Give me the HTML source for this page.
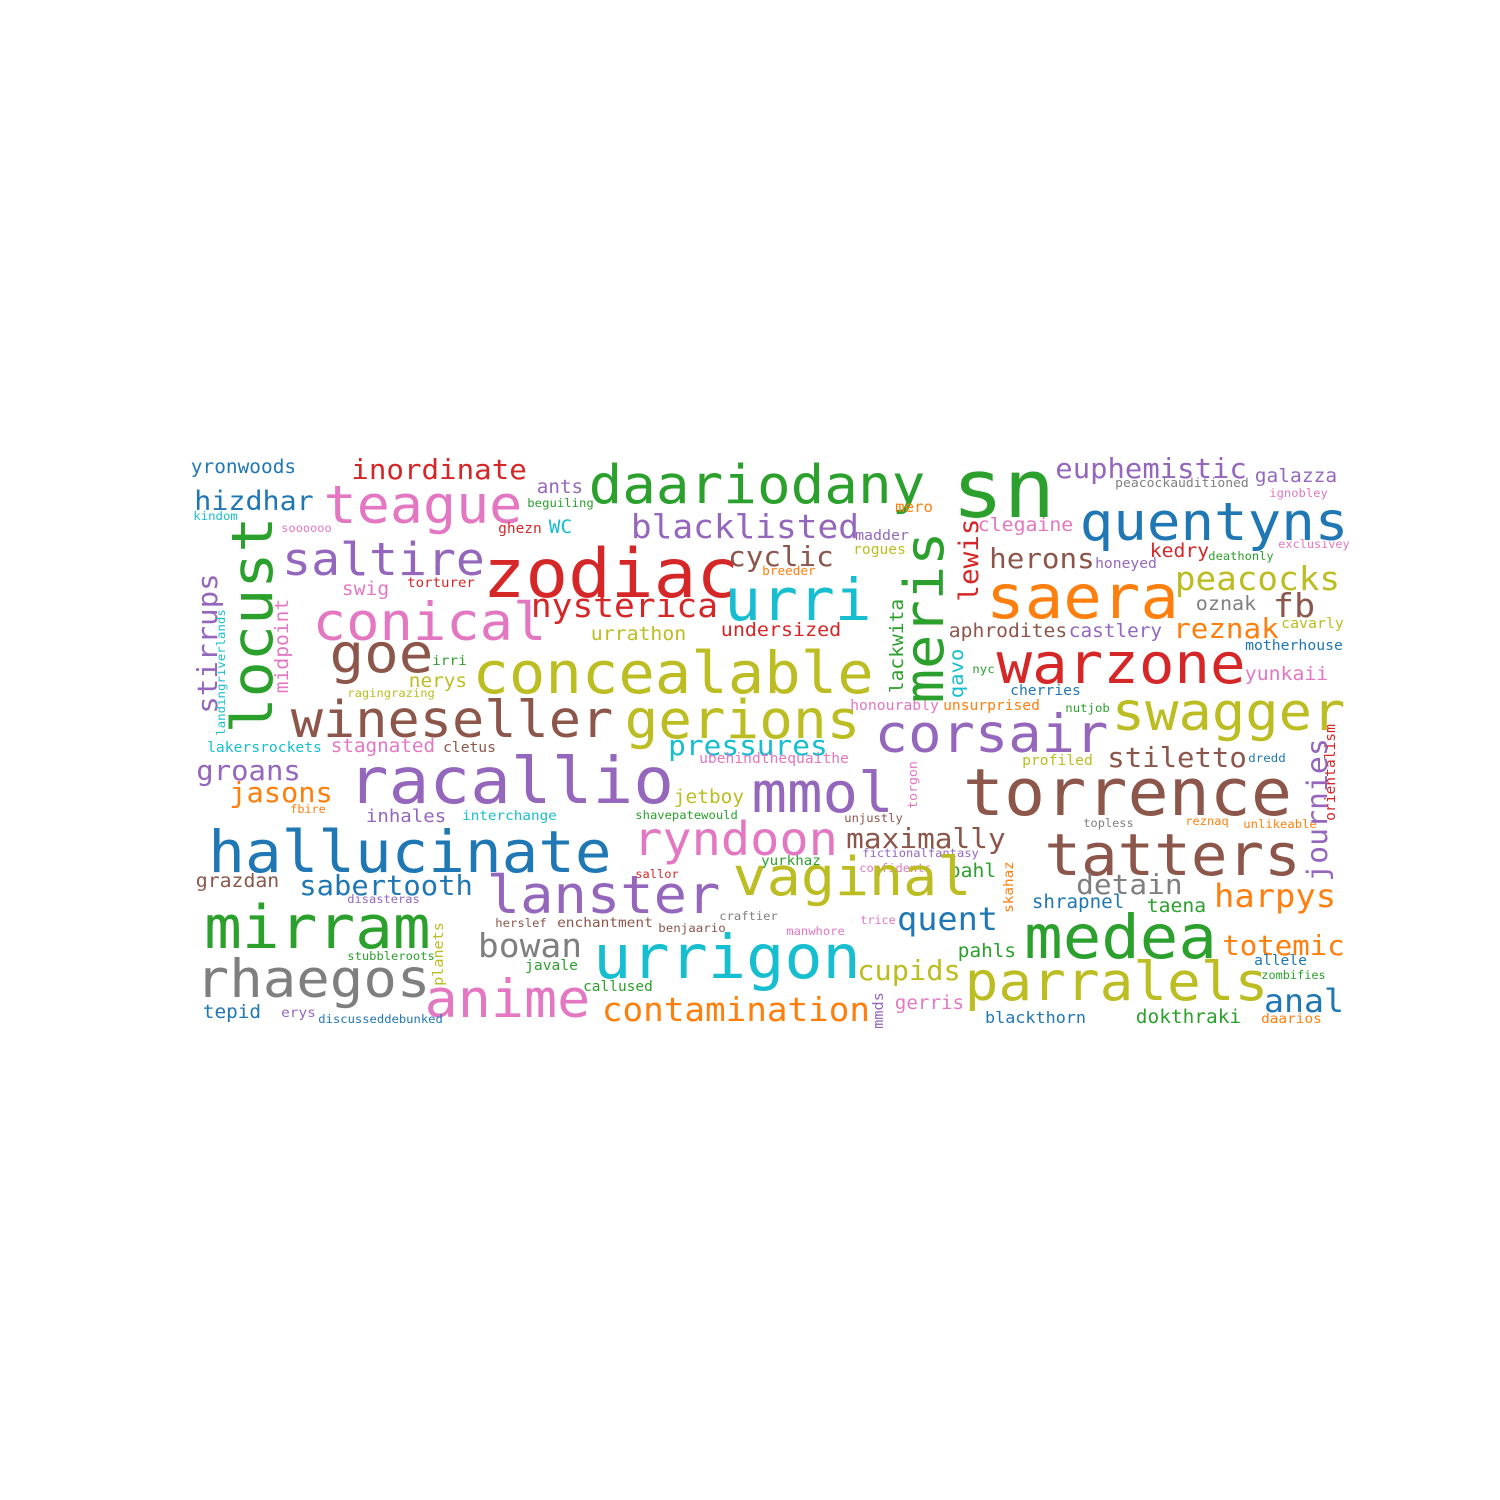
<!DOCTYPE html>
<html><head><meta charset="utf-8">
<style>
html,body{margin:0;padding:0;background:#fff;}
svg{display:block;}
text{font-family:"DejaVu Sans Mono","Liberation Mono",monospace;}
</style></head>
<body>
<svg id="cloud" width="1500" height="1500" viewBox="0 0 1500 1500" xmlns="http://www.w3.org/2000/svg">
<rect width="1500" height="1500" fill="#fff"/>
</svg>
<script>
const B="#1f77b4",O="#ff7f0e",G="#2ca02c",R="#d62728",P="#9467bd",N="#8c564b",K="#e377c2",Y="#7f7f7f",L="#bcbd22",C="#17becf";
// horizontal words: [text, left, right, baseline, color]
const hWords=[
["yronwoods",192,295,473,B],["inordinate",353,525,479,R],["ants",538,582,493,P],["teague",327,519,523,K],
["hizdhar",196,312,510,B],["kindom",194,237,520,C],["soooooo",282,331,532,K],["beguiling",528,593,507,G],
["ghezn",499,541,533,R],["WC",550,571,533,C],["daariodany",592,922,503,G],["sn",957,1050,517,G],
["blacklisted",633,857,538,P],["saltire",285,482,575,P],["zodiac",487,735,597,R],["swig",343,388,595,K],
["torturer",408,474,587,R],["conical",316,543,640,K],["nysterica",533,716,617,R],["urrathon",592,685,640,L],
["goe",333,430,672,N],["irri",433,466,665,G],["nerys",410,466,687,L],["ragingrazing",348,434,697,L],
["concealable",476,870,693,L],["wineseller",294,610,737,N],["gerions",628,857,738,L],
["euphemistic",1057,1245,478,P],["galazza",1256,1336,482,P],["peacockauditioned",1116,1248,487,Y],
["ignobley",1270,1327,497,K],["mero",896,932,512,O],["quentyns",1083,1345,540,B],["clegaine",979,1072,531,K],
["madder",856,908,540,P],["rogues",854,905,554,L],["cyclic",730,832,566,N],["breeder",763,815,575,O],
["herons",991,1093,568,N],["honeyed",1096,1156,568,P],["kedry",1151,1208,557,R],["deathonly",1209,1273,560,G],
["exclusivey",1279,1349,548,K],["urri",728,868,620,C],["saera",990,1175,618,O],["peacocks",1177,1338,590,L],
["oznak",1197,1255,610,Y],["fb",1275,1313,617,N],["undersized",722,840,636,R],["aphrodites",950,1066,637,N],
["castlery",1070,1161,637,P],["reznak",1175,1277,638,O],["cavarly",1282,1343,628,L],["motherhouse",1246,1342,650,B],
["nyc",973,994,673,G],["warzone",1000,1242,683,R],["yunkaii",1246,1327,680,K],["cherries",1011,1080,695,B],
["honourably",851,938,710,K],["unsurprised",944,1039,710,O],["nutjob",1066,1109,712,G],["swagger",1115,1342,730,L],
["corsair",878,1105,752,P],["pressures",670,826,755,C],
["lakersrockets",208,321,752,C],["stagnated",332,434,752,K],["cletus",444,495,752,N],["racallio",352,670,803,P],
["ubehindthequaithe",700,848,763,K],["groans",198,299,780,P],["jasons",231,331,802,O],["jetboy",675,743,803,L],
["mmol",755,890,812,P],["fbire",291,325,813,O],["inhales",367,445,822,P],["interchange",463,556,820,C],
["shavepatewould",636,737,819,G],["hallucinate",212,608,872,B],["ryndoon",636,835,855,K],["grazdan",197,278,887,N],
["sabertooth",301,471,895,B],["sallor",636,678,878,R],["lanster",490,717,913,P],["disasteras",348,419,903,P],
["mirram",208,427,948,G],["herslef",496,546,927,N],["enchantment",558,652,927,N],["benjaario",659,725,932,N],
["craftier",720,777,920,Y],["bowan",480,580,957,Y],["stubbleroots",348,434,960,G],["urrigon",597,857,978,C],
["javale",526,577,970,G],["rhaegos",199,427,997,Y],["anime",428,587,1017,K],["callused",584,652,991,G],
["tepid",204,260,1018,B],["erys",282,315,1017,P],["discusseddebunked",319,442,1023,B],["contamination",604,868,1021,O],
["profiled",1023,1092,765,L],["stiletto",1109,1245,767,N],["dredd",1249,1285,762,B],["torrence",967,1288,815,N],
["unjustly",845,902,822,N],["topless",1084,1133,827,Y],["reznaq",1186,1228,825,O],["unlikeable",1244,1316,828,O],
["maximally",848,1004,848,N],["fictionalfantasy",863,978,857,P],["tatters",1048,1297,875,N],["yurkhaz",762,820,865,G],
["confidents",860,931,872,K],["pahl",950,995,877,G],["vaginal",736,968,895,L],["detain",1078,1181,894,Y],
["shrapnel",1033,1123,908,B],["taena",1148,1205,912,G],["harpys",1216,1334,907,O],["trice",861,895,924,K],
["manwhore",787,844,935,K],["quent",899,996,930,B],["medea",1028,1213,958,G],["pahls",959,1015,957,G],
["totemic",1224,1343,955,O],["allele",1255,1306,965,B],["cupids",859,959,980,L],["zombifies",1262,1325,979,G],
["parralels",968,1265,1000,L],["anal",1266,1342,1012,B],["gerris",896,963,1009,K],["blackthorn",986,1085,1023,B],
["dokthraki",1137,1240,1023,G],["daarios",1262,1321,1023,O]
];
// vertical words (read bottom to top): [text, top, bottom, baselineX, color]
const vWords=[
["locust",520,730,272,G],["stirrups",575,712,217,P],["midpoint",600,692,288,K],["landingriverlands",610,735,225,C],
["meris",535,700,943,G],["lewis",520,600,978,R],["lackwita",600,692,903,G],["qavo",650,697,963,C],
["orientalism",725,820,1335,R],["planets",923,985,443,L],["torgon",762,808,917,K],["journies",740,880,1327,P],
["skahaz",862,912,1013,O],["mmds",993,1028,883,P]
];
const svg=document.getElementById('cloud');
const NS="http://www.w3.org/2000/svg";
const SHRINK=0.95;
function sizeFor(t,w){return w/(t.length*0.602-0.12);}
hWords.forEach(function(d){
  const s=sizeFor(d[0],d[2]-d[1]);
  const el=document.createElementNS(NS,'text');
  el.setAttribute('x',(d[1]-0.06*s).toFixed(1));
  el.setAttribute('y',d[3]);
  el.setAttribute('font-size',(s*SHRINK).toFixed(1));
  el.setAttribute('fill',d[4]);
  el.setAttribute('textLength',(d[0].length*0.602*s).toFixed(1));
  el.setAttribute('lengthAdjust','spacingAndGlyphs');
  
  
  el.textContent=d[0];
  svg.appendChild(el);
});
vWords.forEach(function(d){
  const s=sizeFor(d[0],d[2]-d[1]);
  const el=document.createElementNS(NS,'text');
  const x0=d[3], y0=d[2]+0.06*s;
  el.setAttribute('x',x0);
  el.setAttribute('y',y0.toFixed(1));
  el.setAttribute('transform','rotate(-90 '+x0+' '+y0.toFixed(1)+')');
  el.setAttribute('font-size',(s*SHRINK).toFixed(1));
  el.setAttribute('fill',d[4]);
  el.setAttribute('textLength',(d[0].length*0.602*s).toFixed(1));
  el.setAttribute('lengthAdjust','spacingAndGlyphs');
  
  
  el.textContent=d[0];
  svg.appendChild(el);
});
</script>
</body></html>
